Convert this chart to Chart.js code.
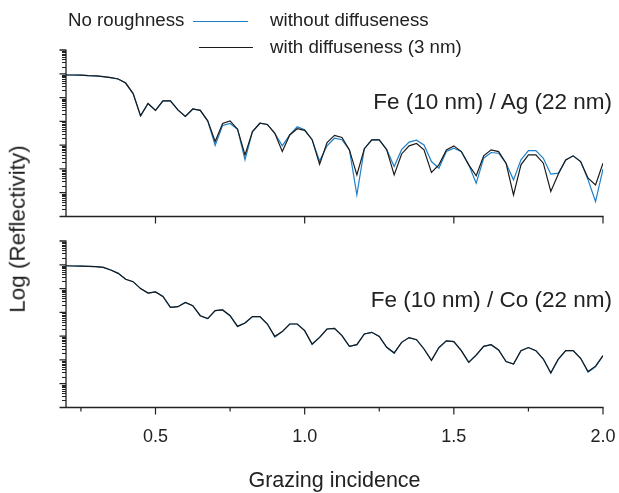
<!DOCTYPE html>
<html><head><meta charset="utf-8">
<script src="https://cdn.jsdelivr.net/npm/chart.js@4.4.0/dist/chart.umd.min.js"></script>
<style>
html,body{margin:0;padding:0;background:#fff;}
#wrap{position:relative;width:619px;height:493px;overflow:hidden;font-family:"Liberation Sans",Arial,Helvetica,sans-serif;color:#222;}
canvas{position:absolute;left:0;}
.t{position:absolute;white-space:nowrap;line-height:1;}
.ln{position:absolute;height:0;}
</style></head><body>
<div id="wrap">
<canvas id="c1" width="619" height="228" style="top:0px"></canvas>
<canvas id="c2" width="619" height="265" style="top:228px"></canvas>
<div class="t" style="left:68px;top:11px;font-size:18.7px">No roughness</div>
<div class="ln" style="left:193px;top:21px;width:55px;border-top:1.3px solid #1f7fc6"></div>
<div class="t" style="left:270px;top:11px;font-size:18.7px">without diffuseness</div>
<div class="ln" style="left:199px;top:47px;width:54px;border-top:1.3px solid #1a1a1a"></div>
<div class="t" style="left:270px;top:38px;font-size:18.7px">with diffuseness (3 nm)</div>
<div class="t" style="right:7px;top:91px;font-size:22.5px">Fe (10 nm) / Ag (22 nm)</div>
<div class="t" style="right:7px;top:289px;font-size:22.5px">Fe (10 nm) / Co (22 nm)</div>
<div class="t" style="left:18px;top:229px;font-size:22.5px;transform:translate(-50%,-50%) rotate(-90deg);">Log (Reflectivity)</div>
</div>
<script>
// Grazing incidence samples
const xs = [0.2,0.225,0.25,0.275,0.3,0.325,0.35,0.375,0.4,0.425,0.45,0.475,0.5,0.525,0.55,0.575,0.6,0.625,0.65,0.675,0.7,0.725,0.75,0.775,0.8,0.825,0.85,0.875,0.9,0.925,0.95,0.975,1.0,1.025,1.05,1.075,1.1,1.125,1.15,1.175,1.2,1.225,1.25,1.275,1.3,1.325,1.35,1.375,1.4,1.425,1.45,1.475,1.5,1.525,1.55,1.575,1.6,1.625,1.65,1.675,1.7,1.725,1.75,1.775,1.8,1.825,1.85,1.875,1.9,1.925,1.95,1.975,2.0];

// log10(reflectivity), Fe/Ag
const agWith = [-0.05,-0.05,-0.06,-0.08,-0.09,-0.12,-0.16,-0.22,-0.39,-0.83,-1.77,-1.25,-1.54,-1.14,-1.14,-1.52,-1.79,-1.48,-1.54,-1.98,-2.85,-2.09,-1.98,-2.33,-3.41,-2.43,-2.08,-2.13,-2.50,-3.27,-2.57,-2.31,-2.38,-2.77,-3.81,-2.89,-2.59,-2.68,-3.20,-4.25,-3.15,-2.78,-2.78,-3.19,-4.25,-3.37,-3.03,-2.93,-3.20,-4.15,-3.83,-3.20,-3.03,-3.27,-3.83,-4.29,-3.45,-3.20,-3.27,-3.76,-5.09,-3.83,-3.41,-3.41,-3.76,-4.95,-4.22,-3.62,-3.45,-3.69,-4.39,-4.67,-3.76];
const agWithout = [-0.05,-0.05,-0.06,-0.08,-0.09,-0.12,-0.16,-0.22,-0.39,-0.83,-1.77,-1.25,-1.54,-1.14,-1.14,-1.52,-1.79,-1.48,-1.54,-1.98,-3.01,-2.17,-2.09,-2.33,-3.62,-2.43,-2.08,-2.13,-2.50,-3.03,-2.57,-2.23,-2.35,-2.77,-3.67,-3.03,-2.71,-2.77,-3.20,-5.09,-3.15,-2.78,-2.78,-3.19,-3.90,-3.19,-2.87,-2.79,-2.99,-3.69,-3.97,-3.27,-3.13,-3.27,-3.83,-4.60,-3.55,-3.31,-3.34,-3.76,-4.46,-3.62,-3.23,-3.23,-3.55,-4.22,-4.18,-3.62,-3.45,-3.69,-4.46,-5.37,-4.01];

// log10(reflectivity), Fe/Co
const coWith = [-0.04,-0.05,-0.06,-0.07,-0.08,-0.11,-0.22,-0.36,-0.61,-0.71,-1.00,-1.19,-1.14,-1.33,-1.79,-1.76,-1.58,-1.72,-2.14,-2.26,-1.93,-1.90,-2.14,-2.59,-2.45,-2.18,-2.18,-2.49,-3.01,-2.81,-2.49,-2.49,-2.77,-3.33,-3.05,-2.70,-2.67,-2.98,-3.43,-3.36,-2.91,-2.84,-3.01,-3.47,-3.70,-3.26,-3.06,-3.15,-3.54,-4.02,-3.47,-3.20,-3.23,-3.61,-4.10,-3.79,-3.43,-3.36,-3.58,-4.07,-4.17,-3.61,-3.48,-3.61,-3.96,-4.54,-3.96,-3.61,-3.61,-3.93,-4.49,-4.26,-3.82];
const coWithout = [-0.04,-0.05,-0.06,-0.07,-0.08,-0.11,-0.22,-0.36,-0.61,-0.71,-1.00,-1.19,-1.14,-1.33,-1.79,-1.76,-1.58,-1.72,-2.14,-2.26,-1.93,-1.90,-2.14,-2.59,-2.45,-2.18,-2.18,-2.49,-3.04,-2.81,-2.49,-2.49,-2.77,-3.35,-3.05,-2.70,-2.67,-2.98,-3.43,-3.36,-2.91,-2.84,-3.01,-3.47,-3.72,-3.26,-3.06,-3.15,-3.54,-4.02,-3.50,-3.20,-3.23,-3.61,-4.10,-3.81,-3.43,-3.36,-3.58,-4.07,-4.17,-3.61,-3.48,-3.61,-3.96,-4.56,-3.99,-3.61,-3.61,-3.93,-4.51,-4.29,-3.82];

// axis ticks
const xTickValues = [0.25,0.5,0.75,1.0,1.25,1.5,1.75,2.0];
const xTickLabels = ['','0.5','','1.0','','1.5','','2.0'];
const yDecades = [-6,-5,-4,-3,-2,-1,0,1];
const yMinorFactors = [2,3,4,5,6,7,8,9];

const BLUE = '#1f7fc6', BLACK = '#1a1a1a', AXIS = '#222';

const axesPlugin = {
  id: 'axesPlugin',
  afterDatasetsDraw(chart, args, opts) {
    const {ctx, chartArea: a} = chart;
    const x = chart.scales.x, y = chart.scales.y;
    ctx.save();
    ctx.strokeStyle = AXIS;
    ctx.lineWidth = 1.3;
    ctx.beginPath();
    ctx.moveTo(a.left, a.top - 0.5); ctx.lineTo(a.left, a.bottom);
    ctx.moveTo(a.left, a.bottom); ctx.lineTo(a.right + 0.6, a.bottom);
    yDecades.forEach(d => {
      const py = y.getPixelForValue(d);
      ctx.moveTo(a.left - 6.5, py); ctx.lineTo(a.left, py);
    });
    ctx.stroke();
    ctx.lineWidth = 1;
    ctx.beginPath();
    yDecades.slice(0, -1).forEach(d => {
      yMinorFactors.forEach(k => {
        const py = Math.round(y.getPixelForValue(d + Math.log10(k))) + 0.5;
        ctx.moveTo(a.left - 4, py); ctx.lineTo(a.left, py);
      });
    });
    ctx.stroke();
    ctx.lineWidth = 1.2;
    ctx.beginPath();
    xTickValues.forEach((v, i) => {
      const major = xTickLabels[i] !== '';
      if (!major && !opts.minor) return;
      const px = x.getPixelForValue(v);
      ctx.moveTo(px, a.bottom); ctx.lineTo(px, a.bottom + (major ? 7 : 4));
    });
    ctx.stroke();
    ctx.restore();
  }
};

function makeData(withArr, withoutArr) {
  return {
    datasets: [
      {label: 'with diffuseness (3 nm)', data: xs.map((v, i) => ({x: v, y: withArr[i]})), borderColor: BLACK, borderWidth: 1.2, order: 0},
      {label: 'without diffuseness', data: xs.map((v, i) => ({x: v, y: withoutArr[i]})), borderColor: BLUE, borderWidth: 1.2, order: 1}
    ]
  };
}

const common = {
  type: 'line',
  plugins: [axesPlugin],
};

function baseOptions(padding, xScale, minor) {
  return {
    responsive: false,
    devicePixelRatio: 1,
    animation: false,
    layout: {padding},
    elements: {point: {radius: 0}, line: {tension: 0, fill: false}},
    plugins: {legend: {display: false}, tooltip: {enabled: false}, axesPlugin: {minor}},
    scales: {
      x: xScale,
      y: {type: 'linear', display: false, min: -6, max: 1}
    }
  };
}

new Chart(document.getElementById('c1'), {
  ...common,
  data: makeData(agWith, agWithout),
  options: baseOptions({left: 66, right: 16, top: 50, bottom: 11.5},
    {type: 'linear', display: false, min: 0.2, max: 2.0}, false)
});

new Chart(document.getElementById('c2'), {
  ...common,
  data: makeData(coWith, coWithout),
  options: baseOptions({left: 66, right: 16, top: 13, bottom: 0},
    {
      type: 'linear', display: true, min: 0.2, max: 2.0,
      grid: {display: false, drawTicks: false},
      border: {display: false},
      afterBuildTicks: s => { s.ticks = xTickValues.map(v => ({value: v})); },
      afterFit: s => { s.height = 85.5; s.paddingLeft = 0; s.paddingRight = 0; },
      ticks: {
        autoSkip: false, maxRotation: 0, padding: 19,
        color: AXIS,
        font: {family: '"Liberation Sans", Arial, sans-serif', size: 18},
        callback: (value, index) => xTickLabels[index]
      },
      title: {
        display: true, text: 'Grazing incidence', color: AXIS,
        font: {family: '"Liberation Sans", Arial, sans-serif', size: 21.5, lineHeight: 1},
        padding: {top: 0, bottom: 1}
      }
    }, true)
});
</script>
</body></html>
